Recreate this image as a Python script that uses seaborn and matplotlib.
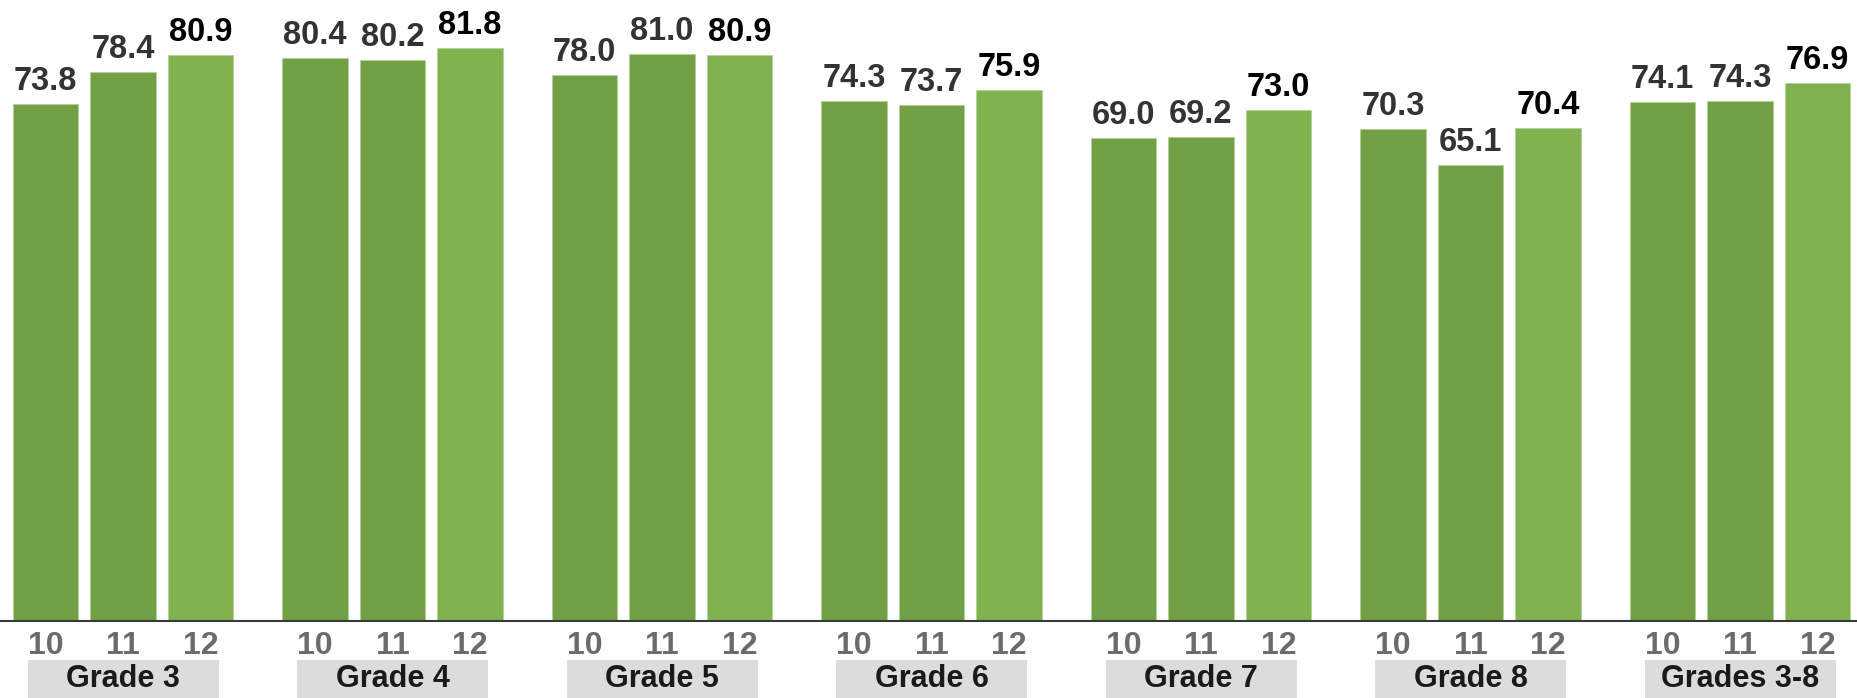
import pandas as pd
import seaborn as sns
import matplotlib.pyplot as plt
from matplotlib.patches import Rectangle
from matplotlib.transforms import blended_transform_factory

# data
grades = ["Grade 3", "Grade 4", "Grade 5", "Grade 6", "Grade 7", "Grade 8", "Grades 3-8"]
years = ["10", "11", "12"]
vals_10 = [73.8, 80.4, 78.0, 74.3, 69.0, 70.3, 74.1]
vals_11 = [78.4, 80.2, 81.0, 73.7, 69.2, 65.1, 74.3]
vals_12 = [80.9, 81.8, 80.9, 75.9, 73.0, 70.4, 76.9]

df = pd.DataFrame({
    "grade": grades * 3,
    "year": [y for y in years for _ in grades],
    "value": vals_10 + vals_11 + vals_12,
})

sns.set_style("white")
plt.rcParams["font.family"] = ["Liberation Sans", "DejaVu Sans"]

fig = plt.figure(figsize=(18.57, 6.98), dpi=100)
ax = fig.add_axes([0, 77 / 698, 1, 621 / 698])

palette = {"10": "#71a144", "11": "#71a144", "12": "#80b24f"}
group_w = 0.863
sns.barplot(data=df, x="grade", y="value", hue="year", hue_order=years,
            order=grades, palette=palette, saturation=1, width=group_w, gap=0.16,
            edgecolor="#b5d09a", linewidth=0.6, legend=False, ax=ax)

ax.set_ylim(0, 621 / 7)
ax.set_xlim(-123 / 269.5, (1857 - 123) / 269.5)

# value labels
label_colors = ["#333333", "#333333", "#000000"]
for cont, c in zip(ax.containers, label_colors):
    ax.bar_label(cont, fmt="%.1f", padding=5, fontsize=23.5,
                 fontweight="bold", color=c)

# year ticks under each bar
step = group_w / 3
pos, labs = [], []
for i in range(len(grades)):
    for j, y in enumerate(years):
        pos.append(i + (j - 1) * step)
        labs.append(y)
ax.set_xticks(pos)
ax.set_xticklabels(labs, fontsize=23, fontweight="bold", color="#6b6b6b")
ax.tick_params(axis="x", length=0, pad=7.5)
ax.set_yticks([])
ax.set_xlabel("")
ax.set_ylabel("")

for s in ["top", "left", "right"]:
    ax.spines[s].set_visible(False)
ax.spines["bottom"].set_color("#3a3a3a")
ax.spines["bottom"].set_linewidth(1.5)

# grade name boxes
trans = blended_transform_factory(ax.transData, ax.transAxes)
box_w = 191 / 269.5
box_top = -39 / 621
box_bot = -77 / 621
for i, g in enumerate(grades):
    ax.add_patch(Rectangle((i - box_w / 2, box_bot), box_w, box_top - box_bot,
                           transform=trans, facecolor="#dcdcdc", edgecolor="none",
                           clip_on=False))
    ax.text(i, (box_top + box_bot) / 2, g, transform=trans, ha="center",
            va="center", fontsize=22, fontweight="bold", color="#1a1a1a")

fig.savefig("out.png", dpi=100)
